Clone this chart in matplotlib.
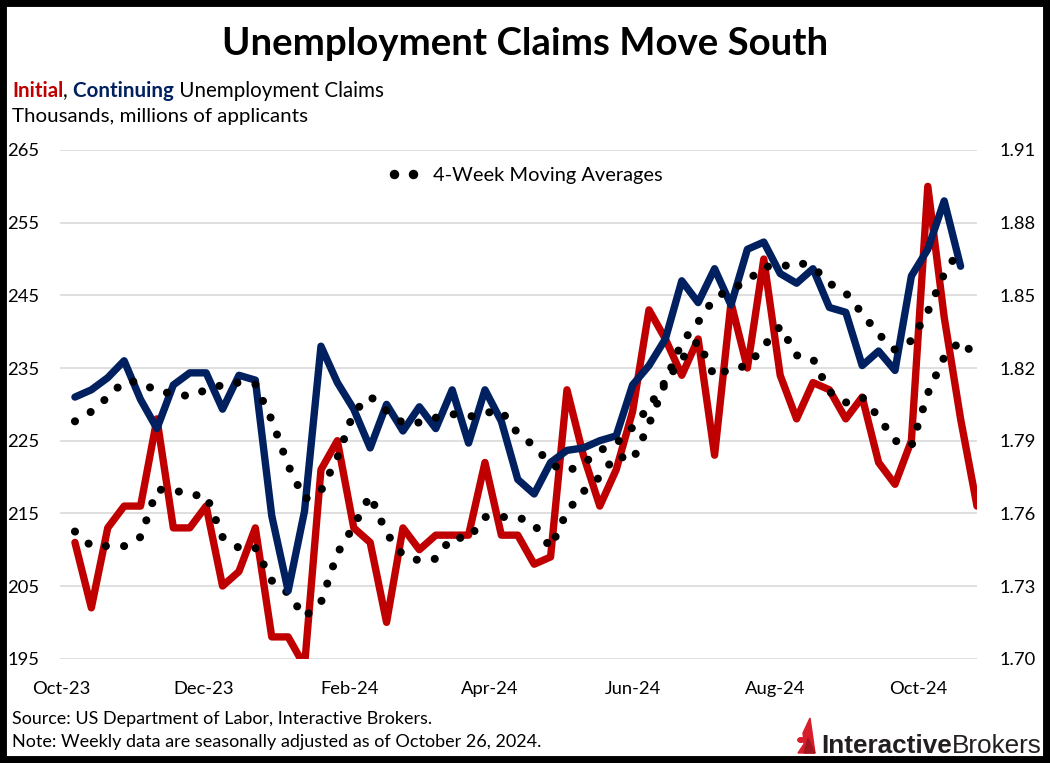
import numpy as np
import pandas as pd
import matplotlib
matplotlib.use("Agg")
import matplotlib.pyplot as plt
from matplotlib.lines import Line2D
from matplotlib.patches import Rectangle, Polygon, Circle
from matplotlib.ticker import FormatStrFormatter

# weekly initial claims (thousands), week ending Oct 7 2023 .. Oct 26 2024
initial = [211, 202, 213, 216, 216, 228, 213, 213, 216, 205, 207, 213, 198, 198,
           194, 221, 225, 213, 211, 200, 213, 210, 212, 212, 212, 222, 212, 212,
           208, 209, 232, 223, 216, 221, 229, 243, 239, 234, 239, 223, 244, 235,
           250, 234, 228, 233, 232, 228, 231, 222, 219, 225, 260, 242, 228, 216]
initial_ma = [212.5, 210.5, 210.5, 210.5, 211.75, 218.25, 218.25, 217.5, 217.5,
              211.75, 210.25, 210.25, 205.75, 204.0, 200.75, 202.75, 209.5, 213.25,
              217.5, 212.25, 209.25, 208.5, 208.75, 211.75, 211.5, 214.5, 214.5,
              214.5, 213.5, 210.25, 215.25, 218.0, 220.0, 223.0, 222.25, 227.25,
              233.0, 236.25, 238.75, 233.75, 235.0, 235.25, 238.0, 240.75, 236.75,
              236.25, 231.75, 230.25, 231.0, 228.25, 225.0, 224.25, 231.5, 236.5,
              238.75, 236.5]
# continuing claims (millions), one week behind
continuing = [1.808, 1.811, 1.816, 1.823, 1.807, 1.795, 1.813, 1.818, 1.818, 1.803,
              1.817, 1.815, 1.759, 1.728, 1.761, 1.829, 1.814, 1.803, 1.787, 1.805,
              1.794, 1.804, 1.795, 1.811, 1.789, 1.811, 1.798, 1.774, 1.768, 1.781,
              1.786, 1.787, 1.790, 1.792, 1.813, 1.821, 1.832, 1.856, 1.847, 1.861,
              1.846, 1.869, 1.872, 1.859, 1.855, 1.861, 1.845, 1.843, 1.821, 1.827,
              1.819, 1.858, 1.869, 1.889, 1.862]
continuing_ma = [1.798, 1.802, 1.808, 1.8145, 1.8143, 1.8103, 1.8095, 1.8083, 1.811,
                 1.813, 1.814, 1.8133, 1.7985, 1.7798, 1.7658, 1.7693, 1.783, 1.8018,
                 1.8083, 1.8023, 1.7973, 1.7975, 1.7995, 1.801, 1.7998, 1.8015,
                 1.8023, 1.793, 1.7878, 1.7803, 1.7773, 1.7805, 1.786, 1.7888,
                 1.7955, 1.804, 1.8145, 1.8305, 1.839, 1.849, 1.8525, 1.8558, 1.862,
                 1.8615, 1.8638, 1.8618, 1.855, 1.851, 1.8425, 1.834, 1.8275, 1.8313,
                 1.8433, 1.8588, 1.8695]

weeks = pd.date_range("2023-10-07", periods=len(initial), freq="7D")
weeks_cont = weeks[:len(continuing)]

tick_dates = pd.to_datetime(["2023-10-01", "2023-12-01", "2024-02-01", "2024-04-01",
                             "2024-06-01", "2024-08-01", "2024-10-01"])
tick_labels = ["Oct-23", "Dec-23", "Feb-24", "Apr-24", "Jun-24", "Aug-24", "Oct-24"]
left_ticks = [195, 205, 215, 225, 235, 245, 255, 265]
right_ticks = [1.70, 1.73, 1.76, 1.79, 1.82, 1.85, 1.88, 1.91]

RED = "#C00000"
NAVY = "#002060"
GRID = "#D9D9D9"
plt.rcParams["font.family"] = ["Lato", "DejaVu Sans"]

W, H = 1050, 763
fig = plt.figure(figsize=(W / 100, H / 100), dpi=100)
renderer = fig.canvas.get_renderer()


def fx(x):
    return x / W


def fy(y):
    return 1 - y / H


def width_at(s, size, **kw):
    t = fig.text(0, 0, s, fontsize=size, **kw)
    w = t.get_window_extent(renderer).width
    t.remove()
    return w


def size_for(s, target, **kw):
    return 20 * target / width_at(s, 20, **kw)


def chain(x, y, parts, target, **common):
    widths = [width_at(s, 20, **common, **kw) for s, kw in parts]
    size = 20 * target / sum(widths)
    cur = x
    for s, kw in parts:
        t = fig.text(fx(cur), fy(y), s, fontsize=size, va="baseline", ha="left", **common, **kw)
        cur += t.get_window_extent(renderer).width


# plot area
ax = fig.add_axes([fx(60), fy(658.7), (977 - 60) / W, (658.7 - 150) / H])
ax2 = ax.twinx()

ax.plot(weeks, initial, color=RED, lw=5.3, solid_joinstyle="round", solid_capstyle="round")
ax.plot(weeks, initial_ma, color="black", lw=5.8, ls=(0, (0.01, 2.25)), dash_capstyle="round")
ax2.plot(weeks_cont, continuing, color=NAVY, lw=5.3, solid_joinstyle="round", solid_capstyle="round")
ax2.plot(weeks_cont, continuing_ma, color="black", lw=5.8, ls=(0, (0.01, 2.25)), dash_capstyle="round")

ax.set_xlim(pd.Timestamp("2023-09-30 15:00"), pd.Timestamp("2024-10-26"))
ax.set_xticks(tick_dates)
ax.set_xticklabels(tick_labels)
ax.set_ylim(195, 265)
ax.set_yticks(left_ticks)
ax2.set_ylim(1.70, 1.91)
ax2.set_yticks(right_ticks)
ax2.yaxis.set_major_formatter(FormatStrFormatter("%.2f"))
ax.grid(axis="y", color=GRID, lw=1.2)
ax.set_axisbelow(True)
for a in (ax, ax2):
    for sp in a.spines.values():
        sp.set_visible(False)

tick_size = size_for("265", 32)
ax.tick_params(axis="y", length=0, pad=15, labelsize=tick_size)
ax2.tick_params(axis="y", length=0, pad=16, labelsize=tick_size)
ax.tick_params(axis="x", length=0, pad=16, labelsize=tick_size)

# legend for the moving averages
leg_size = size_for("4-Week Moving Averages", 229)
F = leg_size * 100 / 72
handle = Line2D([], [], ls="none", marker="o", ms=5.8, color="black")
hl = (18.5 + 0.6 * F) / F
pad = (20.5 - 0.3 * F) / F
ax.legend([handle], ["4-Week Moving Averages"], numpoints=2, frameon=False,
          loc="center left", bbox_to_anchor=(fx(394 - 0.3 * F), fy(175)),
          bbox_transform=fig.transFigure, borderpad=0, borderaxespad=0,
          handlelength=hl, handletextpad=pad, fontsize=leg_size)

# titles
fig.text(fx(525), fy(55), "Unemployment Claims Move South", ha="center", va="baseline",
         fontsize=size_for("Unemployment Claims Move South", 606, weight="bold"),
         weight="bold")
chain(12, 97, [("Initial", dict(color=RED, weight="bold")),
               (",", dict(color="black")),
               (" Continuing", dict(color=NAVY, weight="bold")),
               (" Unemployment Claims", dict(color="black"))], 371)
chain(12, 122, [("Thousands, millions of applicants", dict(color="black"))], 296)

# footer
chain(12, 724, [("Source: US Department of Labor, Interactive Brokers.", {})], 420)
chain(12, 747, [("Note: Weekly data are seasonally adjusted as of October 26, 2024.", {})], 528)

# logo
chain(821, 753, [("Interactive", dict(weight="bold")), ("Brokers", {})], 221,
      family="Liberation Sans", color="#231F20")
fig.patches.append(Polygon([(fx(810), fy(718)), (fx(815), fy(753)), (fx(798), fy(753)),
                            (fx(804), fy(744)), (fx(803), fy(733))],
                           closed=True, color="#D81E2C", transform=fig.transFigure))
fig.patches.append(Polygon([(fx(808), fy(738)), (fx(815), fy(753)), (fx(804), fy(753))],
                           closed=True, color="#A3151F", transform=fig.transFigure))
fig.patches.append(Circle((fx(801), fy(740)), 3.2 / W, color="#D81E2C",
                          transform=fig.transFigure))

# outer frame
fig.patches.append(Rectangle((0, 0), 1, 1, fill=False, ec="black", lw=10,
                             transform=fig.transFigure, clip_on=False))

fig.savefig("out.png", dpi=100)
